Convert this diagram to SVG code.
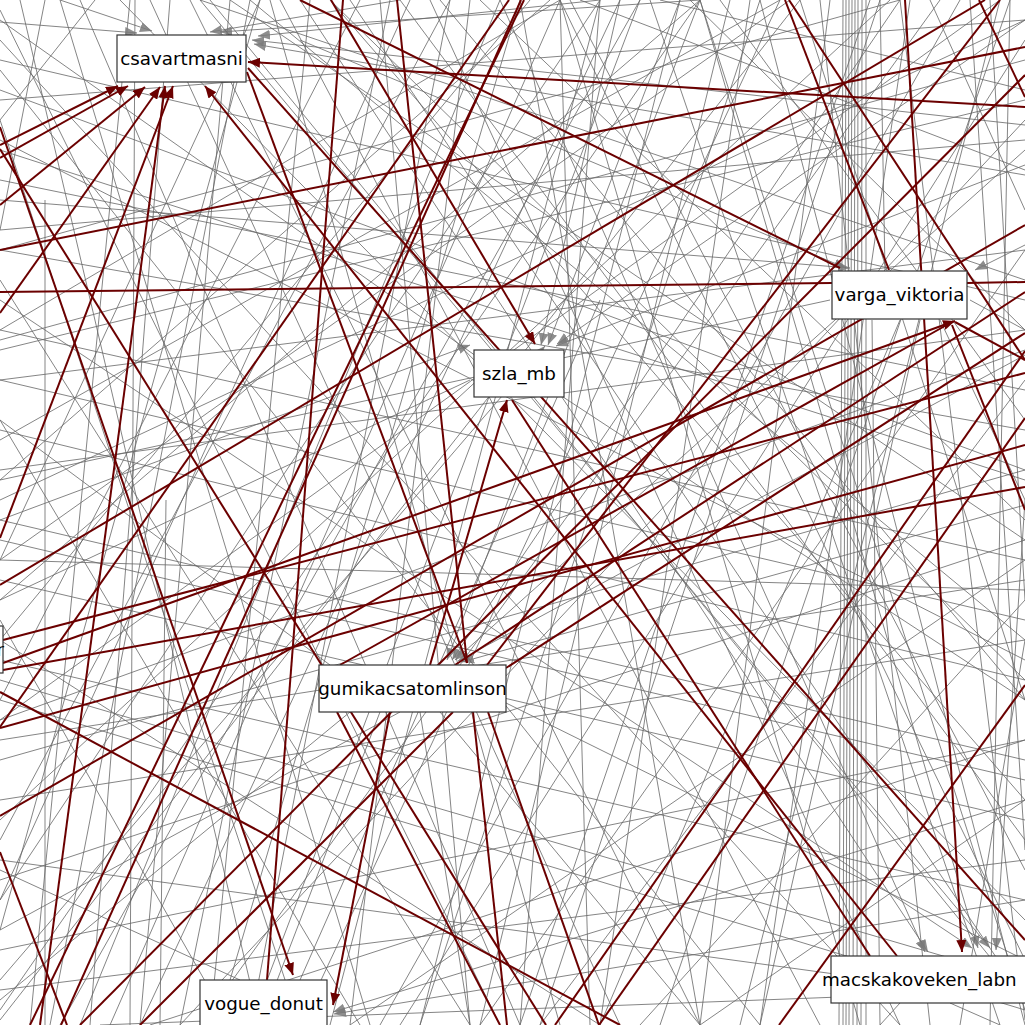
<svg xmlns="http://www.w3.org/2000/svg" width="1025" height="1025" viewBox="0 0 1025 1025">
<defs>
<marker id="ar" markerUnits="userSpaceOnUse" markerWidth="13" markerHeight="10" refX="12" refY="5" orient="auto"><path d="M0,0 L12,5 L0,10 z" fill="#6b0000"/></marker>
<marker id="ag" markerUnits="userSpaceOnUse" markerWidth="13" markerHeight="10" refX="12" refY="5" orient="auto"><path d="M0,0 L12,5 L0,10 z" fill="#7a7a7a" fill-opacity="0.85"/></marker>
</defs>
<style>
.g{stroke:#666;stroke-opacity:0.8;stroke-width:1;fill:none}
.ga{stroke:#666;stroke-opacity:0.8;stroke-width:1;fill:none;marker-end:url(#ag)}
.r{stroke:#6b0000;stroke-width:2;fill:none}
.ra{stroke:#6b0000;stroke-width:2;fill:none;marker-end:url(#ar)}
.n rect{fill:#fff;stroke:#333;stroke-width:1.2}
.n text{font-family:"DejaVu Sans",Verdana,sans-serif;font-size:18.3px;fill:#000;text-anchor:middle}
</style>
<rect width="1025" height="1025" fill="#fff"/>
<g id="connectors">
<g id="gray">
<path class="g" d="M20 0 L260 1025"/>
<path class="g" d="M45 0 L0 230"/>
<path class="g" d="M80 0 L520 1025"/>
<path class="g" d="M95 0 L0 120"/>
<path class="g" d="M130 0 L30 1025"/>
<path class="g" d="M150 0 L620 1025"/>
<path class="g" d="M170 0 L90 1025"/>
<path class="g" d="M190 0 L700 1025"/>
<path class="g" d="M230 0 L140 1025"/>
<path class="g" d="M260 0 L0 560"/>
<path class="g" d="M280 0 L820 1025"/>
<path class="g" d="M310 0 L210 1025"/>
<path class="g" d="M330 0 L1025 800"/>
<path class="g" d="M360 0 L0 700"/>
<path class="g" d="M380 0 L470 1025"/>
<path class="g" d="M410 0 L0 900"/>
<path class="g" d="M430 0 L900 1025"/>
<path class="g" d="M450 0 L250 1025"/>
<path class="g" d="M480 0 L1025 520"/>
<path class="g" d="M500 0 L80 1025"/>
<path class="g" d="M520 0 L700 1025"/>
<path class="g" d="M550 0 L0 480"/>
<path class="g" d="M570 0 L1025 870"/>
<path class="g" d="M600 0 L330 1025"/>
<path class="g" d="M620 0 L140 1025"/>
<path class="g" d="M650 0 L1000 1025"/>
<path class="g" d="M680 0 L420 1025"/>
<path class="g" d="M700 0 L0 1010"/>
<path class="g" d="M720 0 L1025 420"/>
<path class="g" d="M750 0 L600 1025"/>
<path class="g" d="M780 0 L300 1025"/>
<path class="g" d="M800 0 L1025 700"/>
<path class="g" d="M820 0 L930 1025"/>
<path class="g" d="M870 0 L520 1025"/>
<path class="g" d="M890 0 L0 820"/>
<path class="g" d="M910 0 L760 1025"/>
<path class="g" d="M930 0 L1025 210"/>
<path class="g" d="M960 0 L380 1025"/>
<path class="g" d="M990 0 L1025 600"/>
<path class="g" d="M1010 0 L660 1025"/>
<path class="g" d="M0 60 L1025 300"/>
<path class="g" d="M0 100 L1025 20"/>
<path class="g" d="M0 180 L1025 390"/>
<path class="g" d="M0 230 L1025 140"/>
<path class="g" d="M0 330 L1025 560"/>
<path class="g" d="M0 380 L1025 250"/>
<path class="g" d="M0 430 L1025 680"/>
<path class="g" d="M0 470 L1025 330"/>
<path class="g" d="M0 520 L1025 760"/>
<path class="g" d="M0 560 L1025 590"/>
<path class="g" d="M0 600 L700 0"/>
<path class="g" d="M0 660 L1025 900"/>
<path class="g" d="M0 760 L1025 470"/>
<path class="g" d="M0 800 L1025 640"/>
<path class="g" d="M0 860 L1025 1000"/>
<path class="g" d="M0 900 L600 0"/>
<path class="g" d="M0 950 L1025 740"/>
<path class="g" d="M0 990 L1025 860"/>
<path class="g" d="M0 1020 L800 0"/>
<path class="g" d="M60 1025 L640 0"/>
<path class="g" d="M110 1025 L560 0"/>
<path class="g" d="M180 1025 L1025 120"/>
<path class="g" d="M350 1025 L1025 560"/>
<path class="g" d="M420 1025 L760 0"/>
<path class="g" d="M480 1025 L1025 250"/>
<path class="g" d="M540 1025 L880 0"/>
<path class="g" d="M640 1025 L1025 600"/>
<path class="g" d="M700 1025 L1025 800"/>
<path class="g" d="M740 1025 L1000 0"/>
<path class="g" d="M0 280 L470 1025"/>
<path class="g" d="M0 420 L360 1025"/>
<path class="g" d="M0 620 L230 1025"/>
<path class="g" d="M0 40 L900 1025"/>
<path class="g" d="M1025 60 L0 340"/>
<path class="g" d="M1025 480 L0 150"/>
<path class="g" d="M1025 640 L250 0"/>
<path class="g" d="M1025 920 L120 0"/>
<path class="g" d="M1025 960 L560 0"/>
<path class="g" d="M1025 1010 L700 0"/>
<path class="g" d="M0 10 L500 1025"/>
<path class="g" d="M0 90 L1025 470"/>
<path class="g" d="M0 120 L300 1025"/>
<path class="g" d="M0 250 L900 0"/>
<path class="g" d="M0 350 L1025 100"/>
<path class="g" d="M0 500 L1025 20"/>
<path class="g" d="M0 580 L1025 820"/>
<path class="g" d="M0 640 L600 1025"/>
<path class="g" d="M0 720 L1025 350"/>
<path class="g" d="M0 840 L450 0"/>
<path class="g" d="M0 880 L1025 540"/>
<path class="g" d="M0 930 L260 0"/>
<path class="g" d="M60 0 L370 1025"/>
<path class="g" d="M210 0 L1025 1000"/>
<path class="g" d="M250 0 L50 1025"/>
<path class="g" d="M270 0 L560 1025"/>
<path class="g" d="M350 0 L1025 1000"/>
<path class="g" d="M390 0 L180 1025"/>
<path class="g" d="M440 0 L1025 700"/>
<path class="g" d="M470 0 L350 1025"/>
<path class="g" d="M530 0 L0 640"/>
<path class="g" d="M560 0 L860 1025"/>
<path class="g" d="M640 0 L250 1025"/>
<path class="g" d="M690 0 L1025 330"/>
<path class="g" d="M730 0 L480 1025"/>
<path class="g" d="M760 0 L1025 1025"/>
<path class="g" d="M790 0 L0 560"/>
<path class="g" d="M830 0 L700 1025"/>
<path class="g" d="M900 0 L1025 1020"/>
<path class="g" d="M940 0 L200 1025"/>
<path class="g" d="M970 0 L1025 850"/>
<path class="g" d="M1000 0 L0 720"/>
<path class="g" d="M1025 280 L200 0"/>
<path class="g" d="M1025 430 L0 250"/>
<path class="g" d="M1025 620 L0 380"/>
<path class="g" d="M1025 680 L330 0"/>
<path class="g" d="M1025 780 L0 540"/>
<path class="g" d="M1025 840 L400 0"/>
<path class="g" d="M1025 980 L0 680"/>
<path class="g" d="M1025 990 L100 1025"/>
<path class="g" d="M843 0 L839 1025"/>
<path class="g" d="M846 0 L843 1025"/>
<path class="g" d="M849 0 L846 1025"/>
<path class="g" d="M852 0 L849 1025"/>
<path class="g" d="M855 0 L853 1025"/>
<path class="g" d="M858 0 L857 1025"/>
<path class="g" d="M862 0 L861 1025"/>
<path class="g" d="M866 0 L866 1025"/>
<path class="g" d="M872 320 L880 1025"/>
<path class="g" d="M880 0 L885 270"/>
<path class="g" d="M135 0 L130 1025"/>
<path class="g" d="M45 1025 L45 200"/>
<path class="g" d="M160 1025 L166 500"/>
<path class="ga" d="M0 22 L137 33"/>
<path class="ga" d="M60 0 L152 31"/>
<path class="ga" d="M400 0 L210 32"/>
<path class="ga" d="M700 0 L220 32"/>
<path class="ga" d="M1025 125 L252 40"/>
<path class="ga" d="M1025 175 L254 44"/>
<path class="ga" d="M600 0 L258 36"/>
<path class="ga" d="M900 0 L452 660"/>
<path class="ga" d="M1025 355 L458 661"/>
<path class="ga" d="M1025 505 L462 662"/>
<path class="ga" d="M700 0 L447 660"/>
<path class="ga" d="M1025 150 L455 660"/>
<path class="ga" d="M680 0 L548 345"/>
<path class="ga" d="M1025 165 L556 346"/>
<path class="ga" d="M0 980 L545 346"/>
<path class="ga" d="M620 0 L541 345"/>
<path class="ga" d="M500 0 L925 952"/>
<path class="ga" d="M300 0 L928 952"/>
<path class="ga" d="M0 300 L972 948"/>
<path class="ga" d="M700 0 L978 948"/>
<path class="ga" d="M1025 500 L996 950"/>
<path class="ga" d="M200 0 L990 948"/>
<path class="ga" d="M0 200 L850 268"/>
<path class="ga" d="M300 40 L846 268"/>
<path class="ga" d="M1025 245 L975 270"/>
<path class="ga" d="M1025 800 L333 1012"/>
<path class="ga" d="M1025 900 L334 1014"/>
<path class="ga" d="M0 520 L470 345"/>
<path class="ga" d="M1025 20 L557 344"/>
<path class="g" d="M380 712 L260 1025"/>
<path class="g" d="M420 712 L470 1025"/>
<path class="g" d="M400 712 L0 930"/>
<path class="g" d="M500 700 L1025 960"/>
<path class="g" d="M350 712 L0 1000"/>
<path class="g" d="M440 712 L700 1025"/>
<path class="g" d="M330 665 L0 420"/>
<path class="g" d="M510 380 L0 20"/>
<path class="g" d="M560 395 L1025 700"/>
<path class="g" d="M470 380 L0 600"/>
<path class="g" d="M900 320 L600 1025"/>
<path class="g" d="M940 320 L1025 500"/>
<path class="g" d="M920 320 L760 1025"/>
<path class="g" d="M830 300 L0 480"/>
<path class="g" d="M970 300 L1025 330"/>
<path class="g" d="M900 1003 L880 1025"/>
<path class="g" d="M950 1003 L1000 1025"/>
<path class="g" d="M240 980 L0 870"/>
<path class="g" d="M300 980 L600 300"/>
<path class="g" d="M230 980 L520 0"/>
<path class="g" d="M0 700 L1025 1010"/>
<path class="g" d="M0 740 L1025 580"/>
<path class="g" d="M0 140 L1025 660"/>
<path class="g" d="M0 70 L760 1025"/>
<path class="g" d="M230 0 L1025 540"/>
<path class="g" d="M1025 40 L400 1025"/>
<path class="g" d="M1025 380 L540 1025"/>
<path class="g" d="M1025 740 L150 1025"/>
<path class="g" d="M580 0 L1025 170"/>
<path class="g" d="M660 0 L1025 90"/>
<path class="g" d="M0 330 L560 0"/>
<path class="g" d="M0 440 L780 0"/>
<path class="g" d="M520 1025 L600 0"/>
<path class="g" d="M590 1025 L560 0"/>
<path class="g" d="M990 1025 L1010 0"/>
<path class="g" d="M960 1025 L1025 640"/>
</g>
<g id="red">
<path class="ra" d="M1025 107 L248 62"/>
<path class="r" d="M0 292 L832 283"/>
<path class="r" d="M967 283 L1025 282"/>
<path class="r" d="M0 250 L1025 47"/>
<path class="r" d="M300 0 L840 268"/>
<path class="ra" d="M0 127 L293 975"/>
<path class="ra" d="M0 145 L118 86"/>
<path class="ra" d="M0 158 L128 86"/>
<path class="ra" d="M0 205 L145 87"/>
<path class="ra" d="M0 313 L160 87"/>
<path class="ra" d="M40 1025 L165 86"/>
<path class="ra" d="M0 538 L173 86"/>
<path class="ra" d="M897 956 L205 86"/>
<path class="r" d="M248 68 L1025 940"/>
<path class="r" d="M247 72 L467 663"/>
<path class="ra" d="M331 0 L535 344"/>
<path class="r" d="M0 585 L985 0"/>
<path class="r" d="M343 0 L267 980"/>
<path class="r" d="M397 0 L467 663"/>
<path class="ra" d="M430 665 L507 400"/>
<path class="ra" d="M3 663 L955 321"/>
<path class="r" d="M3 670 L1025 487"/>
<path class="r" d="M0 816 L1025 225"/>
<path class="r" d="M0 728 L1025 445"/>
<path class="r" d="M0 727 L509 0"/>
<path class="r" d="M61 1025 L521 0"/>
<path class="ra" d="M905 0 L962 952"/>
<path class="r" d="M785 0 L889 270"/>
<path class="r" d="M789 0 L1025 360"/>
<path class="r" d="M979 0 L1025 97"/>
<path class="r" d="M952 322 L340 665"/>
<path class="r" d="M512 400 L870 956"/>
<path class="r" d="M0 852 L67 1025"/>
<path class="r" d="M0 692 L620 1025"/>
<path class="r" d="M555 1025 L1025 351"/>
<path class="r" d="M599 1025 L1025 418"/>
<path class="r" d="M779 1025 L1025 685"/>
<path class="r" d="M337 712 L500 1025"/>
<path class="ra" d="M390 712 L333 1005"/>
<path class="r" d="M473 712 L507 1025"/>
<path class="r" d="M3 640 L1025 373"/>
<path class="r" d="M30 1025 L524 0"/>
<path class="r" d="M80 1025 L1025 75"/>
<path class="r" d="M488 712 L599 1025"/>
<path class="r" d="M487 665 L1000 0"/>
<path class="r" d="M506 668 L1025 333"/>
<path class="r" d="M455 665 L1025 292"/>
<path class="r" d="M955 322 L1025 360"/>
<path class="r" d="M952 325 L1025 510"/>
<path class="r" d="M453 712 L140 1025"/>
<path class="r" d="M0 149 L546 1025"/>
</g>
</g>
<g id="node-csavartmasni" class="n"><rect x="117" y="35" width="129" height="47"/><text x="181.5" y="65">csavartmasni</text></g>
<g id="node-szla_mb" class="n"><rect x="474" y="350" width="90" height="47"/><text x="519" y="380">szla_mb</text></g>
<g id="node-varga_viktoria" class="n"><rect x="832" y="271" width="135" height="48"/><text x="899.5" y="301">varga_viktoria</text></g>
<g id="node-gumikacsatomlinson" class="n"><rect x="319" y="665" width="187" height="47"/><text x="412.5" y="695">gumikacsatomlinson</text></g>
<g id="node-vogue_donut" class="n"><rect x="200" y="980" width="127" height="47"/><text x="263.5" y="1010">vogue_donut</text></g>
<g id="node-macskakoveken" class="n"><rect x="831" y="956" width="220" height="47"/><text x="822" y="986" style="text-anchor:start">macskakoveken_labn</text></g>
<g id="node-er" class="n"><rect x="-60" y="626" width="63" height="47"/><text x="4" y="656" style="text-anchor:end">er</text></g>
</svg>
